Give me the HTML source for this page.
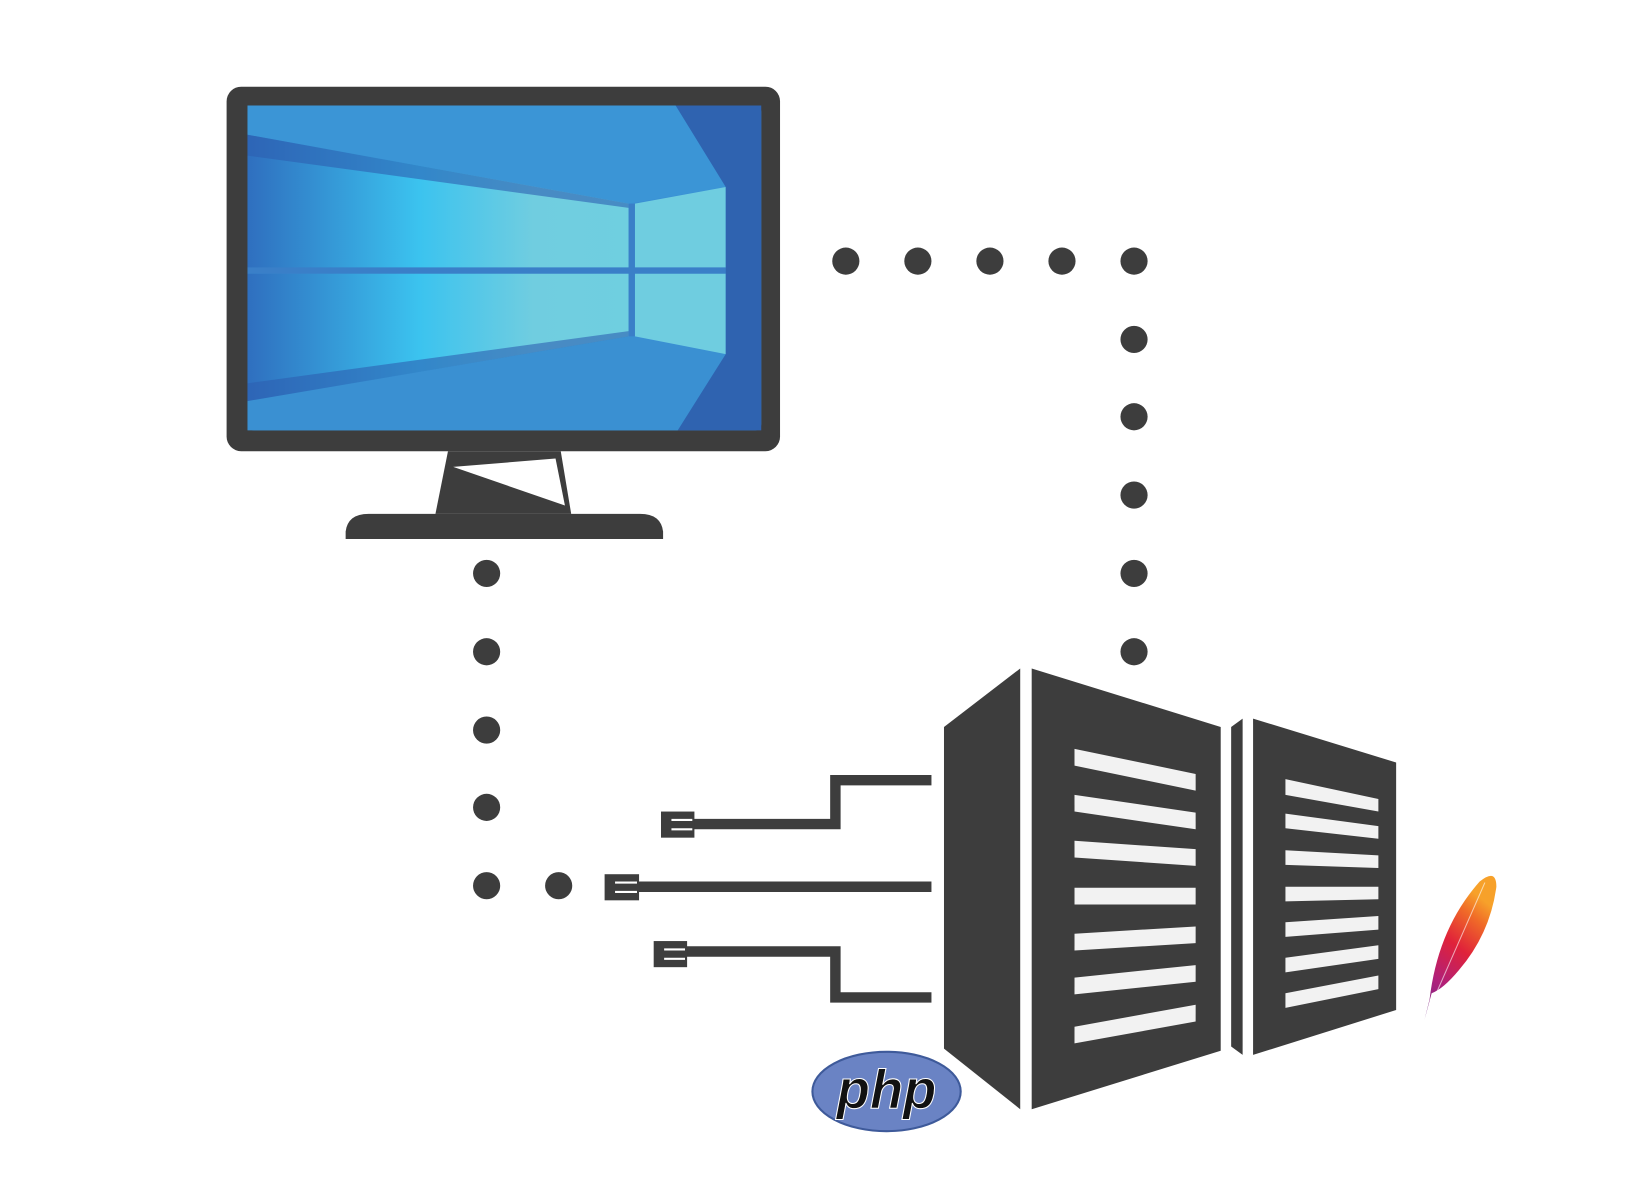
<!DOCTYPE html>
<html><head><meta charset="utf-8"><style>html,body{margin:0;padding:0;background:#fff}svg{display:block}</style></head>
<body>
<svg width="1629" height="1198" viewBox="0 0 1560 1147" preserveAspectRatio="none" xmlns="http://www.w3.org/2000/svg">
<defs>
<linearGradient id="scr" x1="0" x2="1" y1="0" y2="0">
<stop offset="0" stop-color="#2f6fbf"/><stop offset="0.45" stop-color="#3bc3ef"/><stop offset="0.75" stop-color="#70cde0"/><stop offset="1" stop-color="#6fcfe0"/>
</linearGradient>
<linearGradient id="feather" x1="0" y1="1" x2="0.4" y2="0">
<stop offset="0" stop-color="#6a2a8a"/><stop offset="0.3" stop-color="#b0207a"/><stop offset="0.6" stop-color="#e0223a"/><stop offset="0.85" stop-color="#f06a28"/><stop offset="1" stop-color="#f7a12a"/>
</linearGradient>
</defs>
<rect width="1560" height="1147" fill="#fff"/>
<g transform="translate(-3,-1)">
<!-- monitor -->
<rect x="220" y="84" width="530" height="349" rx="14" fill="#3d3d3d"/>
<rect x="240" y="102" width="492" height="311" rx="6" fill="#3a8fd4"/>
<polygon points="240,102 650,102 698,180 605,196 240,130" fill="#3b95d6"/>
<polygon points="240,130 605,196 605,258 240,258" fill="url(#scr)"/>
<polygon points="240,263 605,263 605,323 240,385" fill="url(#scr)"/>
<polygon points="240,385 605,323 698,340 652,413 240,413" fill="#3a90d2"/>
<polygon points="240,130 605,196 605,200 240,150" fill="#2d5fb0" opacity="0.6"/>
<polygon points="240,368 605,318 605,323 240,385" fill="#2d5fb0" opacity="0.6"/>
<polygon points="611,196 698,180 698,258 611,258" fill="#6fcde0"/>
<polygon points="611,263 698,263 698,340 611,323" fill="#6fcde0"/>
<rect x="240" y="257" width="458" height="6" fill="#3a7fc8"/>
<rect x="605" y="196" width="6" height="127" fill="#3a7fc8"/>
<polygon points="650,102 732,102 732,413 652,413 698,340 698,180" fill="#2f63b0"/>
<!-- stand -->
<polygon points="432,433 540,433 550,493 420,493" fill="#3d3d3d"/>
<polygon points="437,448 535,440 544,485" fill="#fff"/>
<path d="M334,517 L334,510 Q336,493 356,493 L616,493 Q636,493 638,510 L638,517 Z" fill="#3d3d3d"/>
<!-- dots -->
<g fill="#3d3d3d">
<circle cx="813" cy="251" r="13"/><circle cx="882" cy="251" r="13"/><circle cx="951" cy="251" r="13"/><circle cx="1020" cy="251" r="13"/><circle cx="1089" cy="251" r="13"/>
<circle cx="1089" cy="326" r="13"/><circle cx="1089" cy="400" r="13"/><circle cx="1089" cy="475" r="13"/><circle cx="1089" cy="550" r="13"/><circle cx="1089" cy="625" r="13"/>
<circle cx="469" cy="550" r="13"/><circle cx="469" cy="625" r="13"/><circle cx="469" cy="700" r="13"/><circle cx="469" cy="774" r="13"/><circle cx="469" cy="849" r="13"/><circle cx="538" cy="849" r="13"/>
</g>
<!-- server -->
<g fill="#3d3d3d">
<polygon points="907,697 980,641 980,1063 907,1005"/>
<polygon points="991,641 1172,697 1172,1007 991,1063"/>
<polygon points="1182,697 1193,689 1193,1011 1182,1003"/>
<polygon points="1203,689 1340,731 1340,968 1203,1011"/>
</g>
<g fill="#f2f2f2">
<polygon points="1032,718 1148,742 1148,758 1032,734"/>
<polygon points="1032,762 1148,779 1148,795 1032,778"/>
<polygon points="1032,806 1148,814 1148,830 1032,822"/>
<polygon points="1032,851 1148,851 1148,867 1032,867"/>
<polygon points="1032,895 1148,888 1148,904 1032,911"/>
<polygon points="1032,937 1148,925 1148,941 1032,953"/>
<polygon points="1032,984 1148,963 1148,979 1032,1000"/>
<polygon points="1234,747 1323,766 1323,778 1234,762"/>
<polygon points="1234,780 1323,792 1323,804 1234,794"/>
<polygon points="1234,815 1323,820 1323,832 1234,829"/>
<polygon points="1234,850 1323,850 1323,862 1234,864"/>
<polygon points="1234,884 1323,878 1323,891 1234,898"/>
<polygon points="1234,918 1323,906 1323,919 1234,932"/>
<polygon points="1234,952 1323,935 1323,948 1234,966"/>
</g>
<!-- cables -->
<g fill="none" stroke="#3d3d3d" stroke-width="10">
<polyline points="895,748 803,748 803,790 665,790"/>
<polyline points="895,850 612,850"/>
<polyline points="895,956 803,956 803,912 660,912"/>
</g>
<g fill="#3d3d3d">
<rect x="636" y="778" width="32" height="25"/>
<rect x="582" y="838" width="33" height="25"/>
<rect x="629" y="902" width="32" height="25"/>
</g>
<g stroke="#fff" stroke-width="2">
<line x1="646" y1="786" x2="666" y2="786"/><line x1="646" y1="795" x2="666" y2="795"/>
<line x1="592" y1="846" x2="613" y2="846"/><line x1="592" y1="855" x2="613" y2="855"/>
<line x1="639" y1="910" x2="659" y2="910"/><line x1="639" y1="919" x2="659" y2="919"/>
</g>
<!-- php -->
<ellipse cx="852" cy="1046" rx="71" ry="38" fill="#6a83c4" stroke="#3e5a9a" stroke-width="2"/>
<text x="852" y="1062" text-anchor="middle" font-family="Liberation Sans, sans-serif" font-weight="bold" font-style="italic" font-size="52" fill="#111" stroke="#fff" stroke-width="1">php</text>
<!-- feather -->
<path d="M1367,978 L1372,958 Q1380,890 1420,845 Q1436,832 1436,850 Q1430,895 1400,930 Q1385,948 1374,952 Z" fill="url(#feather)"/>
<line x1="1367" y1="978" x2="1425" y2="846" stroke="#fff" stroke-width="1" opacity="0.6"/>
</g>
</svg>
</body></html>
